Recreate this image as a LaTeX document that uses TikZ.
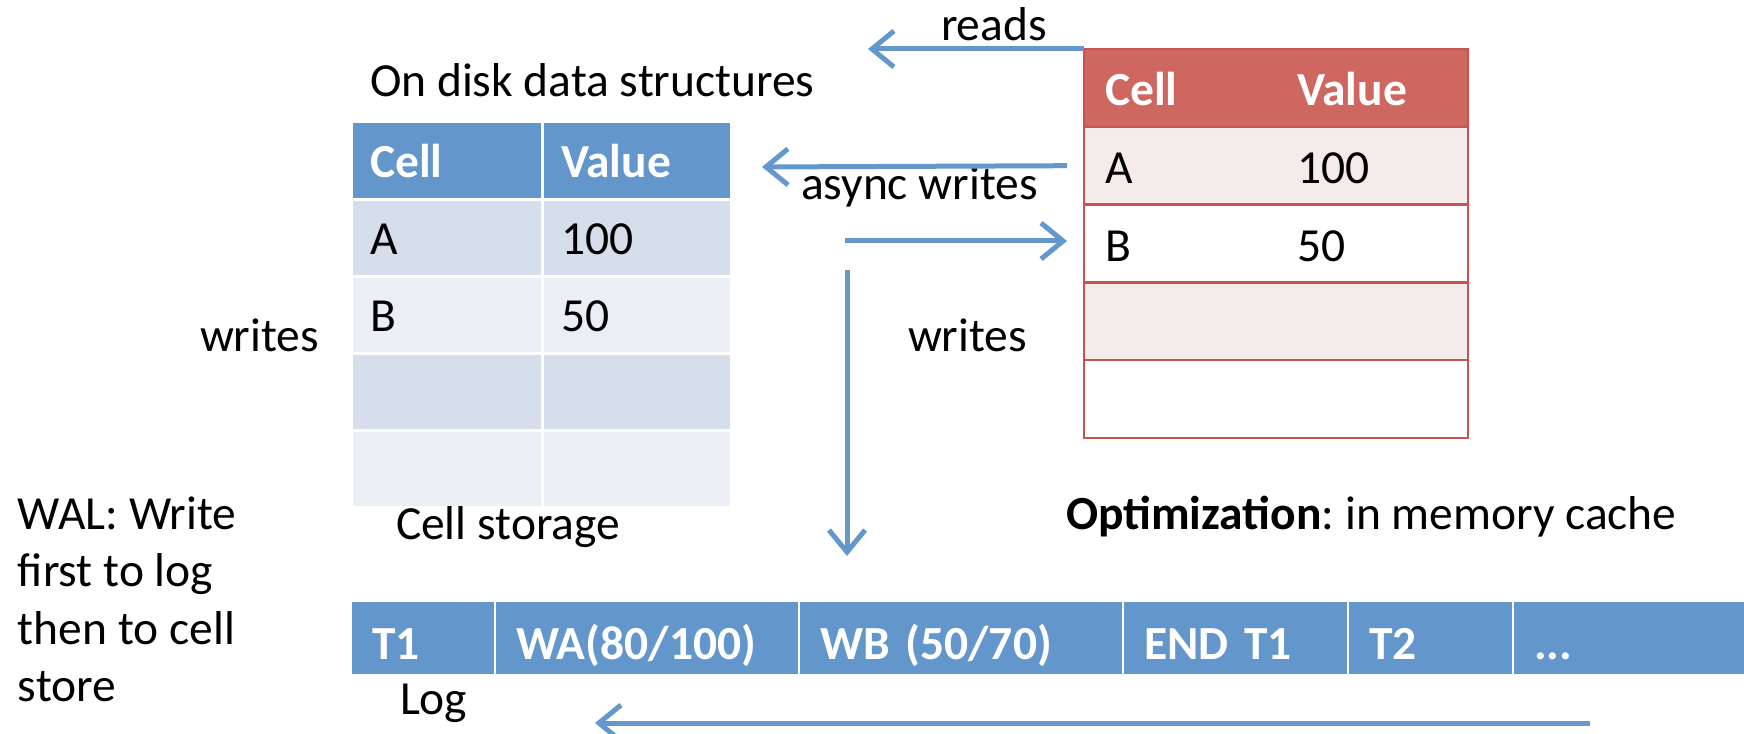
\documentclass[tikz,border=0pt]{standalone}
\usepackage{fontspec}
\setmainfont{Carlito}
\usetikzlibrary{positioning}
\usetikzlibrary{arrows.meta}
\frenchspacing

\definecolor{hdrblue}{RGB}{99,151,203}
\definecolor{rowblueA}{RGB}{214,221,235}
\definecolor{rowblueB}{RGB}{235,238,245}
\definecolor{hdrred}{RGB}{205,103,96}
\definecolor{rowred}{RGB}{244,236,235}
\definecolor{linered}{RGB}{200,84,80}
\definecolor{arrowblue}{RGB}{100,152,205}

\begin{document}
\begin{tikzpicture} [
            flow/.style={-{Straight Barb[length=2.2mm,width=3.6mm]},arrowblue,line width=0.5mm},
            every node/.append style={font=\fontsize{4.75mm}{5.73mm}\selectfont,inner sep=0pt,outer sep=0pt},
            bcell/.style={draw=white,line width=0.3mm,minimum height=7.72mm,text height=3.4mm,text depth=0pt,inner xsep=1.9mm,align=left},
            rrow/.style={draw=linered,line width=0.25mm,minimum height=7.78mm,text height=3.6mm,text depth=0pt,inner xsep=2.1mm,text width=34.2mm,align=left},
            lcell/.style={draw=white,line width=0.2mm,fill=hdrblue,text=white,font=\fontsize{4.75mm}{5.73mm}\selectfont\bfseries,minimum height=7.4mm,text height=4.2mm,text depth=0pt,inner xsep=2.1mm,align=left}]

\useasboundingbox (0,0) rectangle (17.44,-7.34);

%disk table
\node (title) at (3.70,-0.97) [anchor=base west] {On disk data structures};
\node (c0) at (3.51,-1.22) [bcell,anchor=north west,fill=hdrblue,text=white,text width=15.3mm,font=\fontsize{4.75mm}{5.73mm}\selectfont\bfseries] {Cell};
\node (v0) [bcell,right=0pt of c0,fill=hdrblue,text=white,text width=15.1mm,font=\fontsize{4.75mm}{5.73mm}\selectfont\bfseries] {Value};
\node (c1) [bcell,below=0pt of c0,fill=rowblueA,text width=15.3mm] {A};
\node (v1) [bcell,below=0pt of v0,fill=rowblueA,text width=15.1mm] {100};
\node (c2) [bcell,below=0pt of c1,fill=rowblueB,text width=15.3mm] {B};
\node (v2) [bcell,below=0pt of v1,fill=rowblueB,text width=15.1mm] {50};
\node (c3) [bcell,below=0pt of c2,fill=rowblueA,text width=15.3mm] {};
\node (v3) [bcell,below=0pt of v2,fill=rowblueA,text width=15.1mm] {};
\node (c4) [bcell,below=0pt of c3,fill=rowblueB,text width=15.3mm] {};
\node (v4) [bcell,below=0pt of v3,fill=rowblueB,text width=15.1mm] {};
\node (store) at (3.96,-5.40) [anchor=base west] {Cell storage};

%cache table
\node (rHead) at (10.84,-0.49) [rrow,anchor=north west,fill=hdrred,text=white,font=\fontsize{4.75mm}{5.73mm}\selectfont\bfseries] {\makebox[19.2mm][l]{Cell}Value};
\node (rA) [rrow,below=0pt of rHead,fill=rowred] {\makebox[19.2mm][l]{A}100};
\node (rB) [rrow,below=0pt of rA,fill=white] {\makebox[19.2mm][l]{B}50};
\node (rC) [rrow,below=0pt of rB,fill=rowred] {};
\node (rD) [rrow,below=0pt of rC,fill=white] {};
\node (opt) at (10.66,-5.30) [anchor=base west] {\textbf{Optimization}: in memory cache};

%log
\node (t1) at (3.51,-6.38) [lcell,anchor=west,text width=10.2mm] {T1};
\node (wa) [lcell,right=0pt of t1,text width=26.2mm] {WA(80/100)};
\node (wb) [lcell,right=0pt of wa,text width=28.2mm] {WB (50/70)};
\node (end1) [lcell,right=0pt of wb,text width=18.3mm] {END T1};
\node (t2) [lcell,right=0pt of end1,text width=12.3mm] {T2};
\node (more) [lcell,right=0pt of t2,text width=21.0mm] {...};
\node (log) at (4.00,-7.15) [anchor=base west] {Log};

%labels
\node (reads) at (9.41,-0.41) [anchor=base west] {reads};
\node (async) at (8.01,-2.00) [anchor=base west] {async writes};
\node (wrR) at (9.08,-3.52) [anchor=base west] {writes};
\node (wrL) at (2.00,-3.52) [anchor=base west] {writes};
\node (wal) at (0.18,-4.97) [anchor=north west,align=left] {WAL: Write\\first to log\\then to cell\\store};

%arrows
\coordinate (readsEnd) at (8.68,-0.49);
\coordinate (asyncEnd) at (7.62,-1.67);
\coordinate (wrStart) at (8.45,-2.41);
\coordinate (downStart) at (8.47,-2.70);
\coordinate (downEnd) at (8.47,-5.56);
\coordinate (logStart) at (15.90,-7.23);
\coordinate (logEnd) at (5.95,-7.23);
\draw [flow] (rHead.north west) -- (readsEnd);
\draw [flow] ([xshift=-1.7mm]rA.west) -- (asyncEnd);
\draw [flow] (wrStart) -- ([xshift=-1.7mm]wrStart -| rB.west);
\draw [flow] (downStart) -- (downEnd);
\draw [flow] (logStart) -- (logEnd);

\end{tikzpicture}
\end{document}
